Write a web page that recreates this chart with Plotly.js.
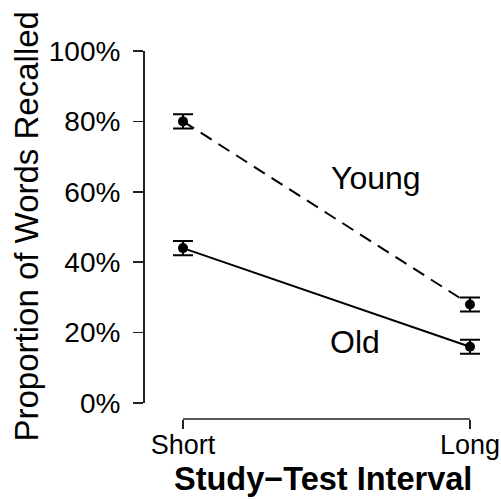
<!DOCTYPE html>
<html>
<head>
<meta charset="utf-8">
<script src="https://cdn.plot.ly/plotly-3.0.1.min.js"></script>
<style>html,body{margin:0;padding:0;background:#fff;}#chart{width:501px;height:499px;}</style>
</head>
<body>
<div id="chart"></div>
<script>
// Data
var intervals = ["Short", "Long"];
var intervalPos = [0, 1];
var youngMeans = [80, 28];
var youngErr = [2, 2];
var oldMeans = [44, 16];
var oldErr = [2, 2];
var yTickVals = [0, 20, 40, 60, 80, 100];
var yTickText = ["0%", "20%", "40%", "60%", "80%", "100%"];
var groupLabels = ["Young", "Old"];
var labelX = [0.672, 0.598];
var labelY = [64.0, 17.2];

var FONT = "Liberation Sans, Arial, Helvetica, sans-serif";

function series(y, err, dash) {
  return {
    x: intervalPos, y: y, type: "scatter", mode: "lines+markers",
    line: {color: "#000", width: 2, dash: dash},
    marker: {color: "#000", size: 10},
    error_y: {type: "data", array: err, visible: true, color: "#000", thickness: 2, width: 10},
    cliponaxis: false, hoverinfo: "skip", showlegend: false
  };
}

var data = [series(youngMeans, youngErr, "13px,8px"), series(oldMeans, oldErr, "solid")];

var W = 501, H = 499;
// pixel layout of the plotting region
var xLeftPx = 183, xRightPx = 470, pad = 0.08;
var unit = (xRightPx - xLeftPx);
var xAxisYPaper = 1 - 419 / H;

var layout = {
  width: W, height: H,
  margin: {l: 0, r: 0, t: 0, b: 0},
  paper_bgcolor: "#fff", plot_bgcolor: "rgba(0,0,0,0)",
  font: {family: FONT, color: "#000", size: 27},
  showlegend: false,
  xaxis: {
    domain: [(xLeftPx - pad * unit) / W, (xRightPx + pad * unit) / W],
    range: [intervalPos[0] - pad, intervalPos[1] + pad],
    anchor: "free", position: xAxisYPaper,
    tickvals: intervalPos, ticktext: intervals,
    showline: false,
    ticks: "outside", ticklen: 9, tickwidth: 1.5, tickcolor: "#222",
    ticklabelstandoff: -7,
    showgrid: false, zeroline: false,
    tickfont: {size: 27, family: FONT, color: "#000"}
  },
  yaxis: {
    domain: [1 - 403 / H, 1 - 51 / H],
    range: [0, 100],
    anchor: "free", position: 143 / W,
    tickvals: yTickVals, ticktext: yTickText,
    showline: true, linecolor: "#222", linewidth: 1.5,
    ticks: "outside", ticklen: 10, tickwidth: 1.5, tickcolor: "#222",
    ticklabelstandoff: 7,
    showgrid: false, zeroline: false,
    tickfont: {size: 28, family: FONT, color: "#000"}
  },
  shapes: [{
    type: "line", xref: "x", yref: "paper",
    x0: intervalPos[0], x1: intervalPos[1], y0: xAxisYPaper, y1: xAxisYPaper,
    line: {color: "#222", width: 1.5}
  }],
  annotations: groupLabels.map(function (t, i) {
    return {x: labelX[i], y: labelY[i], xref: "x", yref: "y", text: t, showarrow: false,
      font: {size: 32, family: FONT, color: "#000"}, xanchor: "center", yanchor: "middle"};
  }).concat([{
    x: 25.5 / W, y: 1 - 227 / H, xref: "paper", yref: "paper",
    text: "Proportion of Words Recalled", textangle: -90, showarrow: false,
    font: {size: 33, family: FONT, color: "#000"}, xanchor: "center", yanchor: "middle"
  }, {
    x: 323 / W, y: 1 - 479 / H, xref: "paper", yref: "paper",
    text: "<b>Study\u2212Test Interval</b>", showarrow: false,
    font: {size: 32.5, family: FONT, color: "#000"}, xanchor: "center", yanchor: "middle"
  }])
};

Plotly.newPlot("chart", data, layout, {staticPlot: true, displayModeBar: false});
</script>
</body>
</html>
